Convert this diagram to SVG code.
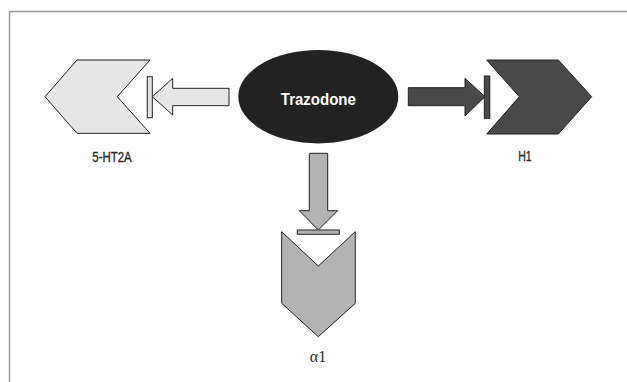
<svg xmlns="http://www.w3.org/2000/svg" width="627" height="382" viewBox="0 0 627 382">
<style>
.lbl{font-family:"Liberation Sans",Arial,sans-serif;font-size:14px;fill:#2a2a2a;stroke:#2a2a2a;stroke-width:0.35;text-anchor:middle}
.stk{stroke:#222;stroke-width:1}
</style>
<rect x="0" y="0" width="627" height="382" fill="#fff"/>
<path d="M9.5,382 V11.5 H627" fill="none" stroke="#9a9a9a" stroke-width="1.5"/>
<g id="trazodone">
<ellipse cx="318.3" cy="96.7" rx="80" ry="46.7" fill="#222"/>
<text x="318.3" y="105" font-family="Liberation Sans,Arial,sans-serif" font-weight="bold" font-size="16" fill="#fff" text-anchor="middle" textLength="75" lengthAdjust="spacingAndGlyphs">Trazodone</text>
</g>
<g id="ht2a">
<polygon class="stk" points="77,60 150,60 117.3,96.7 150,133.3 77,133.3 45,96.7" fill="#e6e6e6"/>
<text class="lbl" x="112" y="161.7" textLength="39.4" lengthAdjust="spacingAndGlyphs">5-HT2A</text>
</g>
<g id="h1">
<polygon class="stk" points="486.7,60 558.3,60 591.7,96.7 558.3,134 486.7,134 519.3,96.7" fill="#4a4a4a"/>
<text class="lbl" x="525" y="160.7" textLength="13.4" lengthAdjust="spacingAndGlyphs">H1</text>
</g>
<g id="alpha1">
<polygon class="stk" points="281.7,231.7 318.3,266 355.3,231.7 355.3,303.3 318.3,336.7 281.7,303.3" fill="#b3b3b3"/>
<text x="318" y="362.3" font-family="Liberation Serif,Times New Roman,serif" font-size="16" fill="#2a2a2a" text-anchor="middle">α1</text>
</g>
<g id="connectors">
<polygon class="stk" points="229,88.3 172.7,88.3 172.7,78.3 152.3,96.7 172.7,115 172.7,105.7 229,105.7" fill="#e6e6e6"/>
<rect class="stk" x="147.3" y="76.7" width="5" height="41" fill="#e6e6e6"/>
<polygon class="stk" points="408.3,87.7 465,87.7 465,78.3 485,96.7 465,116 465,105.7 408.3,105.7" fill="#4a4a4a"/>
<rect class="stk" x="484.3" y="76" width="5.5" height="42.3" fill="#4a4a4a"/>
<polygon class="stk" points="309.3,153.3 327.7,153.3 327.7,210.7 337.7,210.7 318.3,230 299.3,210.7 309.3,210.7" fill="#b3b3b3"/>
<rect class="stk" x="297.3" y="230" width="42" height="4.3" fill="#b3b3b3"/>
</g>
</svg>
